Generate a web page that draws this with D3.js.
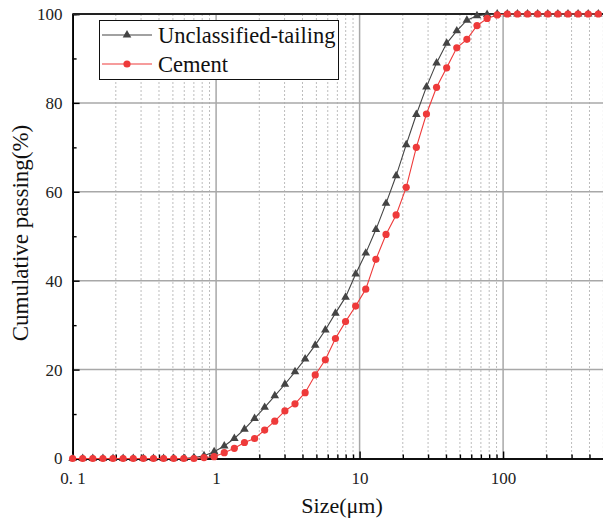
<!DOCTYPE html>
<html><head><meta charset="utf-8">
<script src="https://cdn.jsdelivr.net/npm/d3@7"></script>
<style>
html,body{margin:0;padding:0;background:#fff;}
svg{display:block;}
svg text{font-family:"Liberation Serif","Times New Roman",serif !important;}
</style></head>
<body>
<svg id="chart" width="603" height="521"></svg>
<script>
const sizes = [0.1,0.1176,0.1383,0.1627,0.1913,0.225,0.2647,0.3113,0.3661,0.4306,0.5064,0.5956,0.7005,0.8238,0.9689,1.140,1.340,1.576,1.854,2.180,2.564,3.016,3.547,4.172,4.907,5.771,6.787,7.982,9.389,11.04,12.99,15.28,17.97,21.13,24.85,29.23,34.38,40.43,47.55,55.93,65.77,77.36,90.99,107.0,125.9,148.0,174.1,204.8,240.8,283.2,333.1,391.8,460.8];
const tailing = [0,0,0,0,0,0,0,0,0,0,0,0,0.2,0.6,1.5,2.8,4.5,6.6,9.0,11.5,14.1,16.7,19.5,22.4,25.5,28.9,32.7,36.3,41.5,46.2,51.5,57.4,63.6,70.6,77.4,83.6,89.0,93.4,96.2,98.6,99.6,99.9,100,100,100,100,100,100,100,100,100,100,100];
const cement = [0,0,0,0,0,0,0,0,0,0,0,0,0,0.2,0.4,1.3,2.3,3.6,4.5,6.4,8.4,10.7,12.3,14.8,18.8,22.2,27.0,30.8,34.3,38.1,44.8,50.4,54.8,61.0,70.0,77.5,83.5,87.9,92.4,94.3,97.4,99.0,99.8,100,100,100,100,100,100,100,100,100,100];
const xMajor = [0.1,1,10,100];
const xMajorLabels = ["0. 1","1","10","100"];
const yMajor = [0,20,40,60,80,100];
const yMinor = [10,30,50,70,90];
const seriesNames = ["Unclassified-tailing","Cement"];
const xTitle = "Size(\u03bcm)";
const yTitle = "Cumulative passing(%)";

const svg = d3.select("#chart");
const L = 72.6, R = 603.4, T = 14, B = 458.5;
const x = d3.scaleLog().domain([0.1, 500]).range([L, R]);
const y = d3.scaleLinear().domain([0, 100]).range([B, T]);

const xMinor = [];
xMajor.forEach(d => { for (let m = 2; m <= 9; m++) { const v = d * m; if (v <= 500) xMinor.push(v); } });

const g = svg.append("g");
g.selectAll(".vminor").data(xMinor).join("line")
  .attr("x1", d => x(d)).attr("x2", d => x(d)).attr("y1", T).attr("y2", B)
  .attr("stroke", "#bdbdbd").attr("stroke-width", 1).attr("stroke-dasharray", "2,2");
g.selectAll(".vmajor").data(xMajor.slice(1)).join("line")
  .attr("x1", d => x(d)).attr("x2", d => x(d)).attr("y1", T).attr("y2", B)
  .attr("stroke", "#a8a8a8").attr("stroke-width", 1.5);
g.selectAll(".hmajor").data(yMajor.slice(1, -1)).join("line")
  .attr("x1", L).attr("x2", R).attr("y1", d => y(d)).attr("y2", d => y(d))
  .attr("stroke", "#a8a8a8").attr("stroke-width", 1.5);

const xAxisMajor = d3.axisBottom(x).tickValues(xMajor).tickSize(-7).tickFormat((d, i) => xMajorLabels[i]);
const xAxisMinor = d3.axisBottom(x).tickValues(xMinor).tickSize(-4).tickFormat("");
const ax = svg.append("g").attr("transform", `translate(0,${B})`).call(xAxisMinor);
const ax2 = svg.append("g").attr("transform", `translate(0,${B})`).call(xAxisMajor);
[ax, ax2].forEach(a => { a.select(".domain").attr("stroke", "#000").attr("stroke-width", 1.6); a.selectAll(".tick line").attr("stroke", "#000").attr("stroke-width", 1.4); });
ax2.selectAll(".tick text").attr("font-size", 17).attr("fill", "#222").attr("y", 13).attr("dy", "0.71em");

const yAxisMajor = d3.axisLeft(y).tickValues(yMajor).tickSize(-7).tickFormat(d3.format("d"));
const yAxisMinor = d3.axisLeft(y).tickValues(yMinor).tickSize(-4).tickFormat("");
const ay = svg.append("g").attr("transform", `translate(${L},0)`).call(yAxisMinor);
const ay2 = svg.append("g").attr("transform", `translate(${L},0)`).call(yAxisMajor);
[ay, ay2].forEach(a => { a.select(".domain").attr("stroke", "#000").attr("stroke-width", 1.6); a.selectAll(".tick line").attr("stroke", "#000").attr("stroke-width", 1.4); });
ay2.selectAll(".tick text").attr("font-size", 17).attr("fill", "#222").attr("x", -10);

svg.append("line").attr("x1", L).attr("x2", R).attr("y1", T).attr("y2", T).attr("stroke", "#222").attr("stroke-width", 2);

const colors = ["#444444", "#ee3a3a"];
const data = [tailing, cement];
const line = d3.line().x(d => x(d[0])).y(d => y(d[1]));
data.forEach((vals, i) => {
  const pts = sizes.map((s, j) => [s, vals[j]]);
  svg.append("path").datum(pts).attr("d", line).attr("fill", "none").attr("stroke", colors[i]).attr("stroke-width", 1.1);
});
const tri = d3.symbol().type(d3.symbolTriangle).size(32);
svg.append("g").selectAll("path").data(sizes.map((s, j) => [s, tailing[j]])).join("path")
  .attr("d", tri).attr("transform", d => `translate(${x(d[0])},${y(d[1])})`).attr("fill", colors[0]);
svg.append("g").selectAll("circle").data(sizes.map((s, j) => [s, cement[j]])).join("circle")
  .attr("cx", d => x(d[0])).attr("cy", d => y(d[1])).attr("r", 3.6).attr("fill", colors[1]);

svg.append("text").attr("x", 342).attr("y", 513).attr("text-anchor", "middle").attr("font-size", 22).attr("fill", "#111").text(xTitle);
svg.append("text").attr("transform", "translate(28,233) rotate(-90)").attr("text-anchor", "middle").attr("font-size", 23).attr("fill", "#111").text(yTitle);

const lg = svg.append("g");
lg.append("rect").attr("x", 99.5).attr("y", 20.5).attr("width", 239).attr("height", 59).attr("fill", "#fff").attr("stroke", "#111").attr("stroke-width", 1);
const rowsY = [35, 64];
seriesNames.forEach((n, i) => {
  lg.append("line").attr("x1", 102).attr("x2", 152).attr("y1", rowsY[i]).attr("y2", rowsY[i]).attr("stroke", colors[i]).attr("stroke-width", 1.1);
  if (i === 0) lg.append("path").attr("d", tri).attr("transform", `translate(127,${rowsY[i]})`).attr("fill", colors[0]);
  else lg.append("circle").attr("cx", 127).attr("cy", rowsY[i]).attr("r", 3.6).attr("fill", colors[1]);
  lg.append("text").attr("x", 158).attr("y", rowsY[i] + 8).attr("font-size", 22.5).attr("fill", "#111").text(n);
});
</script>
</body></html>
